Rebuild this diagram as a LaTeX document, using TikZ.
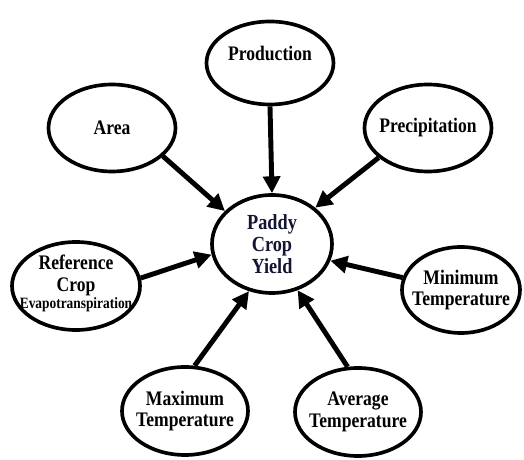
\documentclass[tikz,border=0pt]{standalone}
\usepackage{fontspec}
\setmainfont{Liberation Serif}[FakeStretch=0.85]
\usetikzlibrary{shapes.geometric,arrows.meta}
\colorlet{penColor}{black}
\definecolor{hubText}{rgb}{0.08,0.08,0.2}
\tikzset{
  bubble/.style={ellipse, draw=penColor, line width=2.6pt, fill=white,
    inner sep=-8pt, align=center,
    font=\bfseries\fontsize{14.7}{15.5}\selectfont},
  hub/.style={bubble, minimum width=3.0cm, minimum height=2.45cm,
    text=hubText, font=\bfseries\fontsize{15.3}{15.5}\selectfont},
  feed/.style={draw=penColor, line width=3.5pt,
    -{Triangle[length=0.42cm,width=0.42cm]}}
}
\newcommand{\smallterm}[1]{{\fontsize{11.2}{12}\selectfont #1}}

\begin{document}
\begin{tikzpicture}
    \useasboundingbox (0,0) rectangle (13.1,11.5);
    % the factors round the yield
    \node[hub] (yield) at (6.8,5.4) {Paddy\\Crop\\Yield};
    \node[bubble, minimum width=3.175cm, minimum height=2.075cm] (production) at (6.75,9.925) {\raisebox{0.5cm}{Production}};
    \node[bubble, minimum width=3.175cm, minimum height=2.175cm] (area) at (2.8,8.3) {Area};
    \node[bubble, minimum width=3.175cm, minimum height=2.175cm] (precip) at (10.7,8.3) {Precipitation};
    \node[bubble, minimum width=3.2cm, minimum height=2.2cm] (refcrop) at (1.9,4.35)
      {\raisebox{0.2cm}{Reference}\\\raisebox{0.2cm}{Crop}\\[-3pt]\smallterm{\raisebox{0.2cm}{Evapotranspiration}}};
    \node[bubble, minimum width=2.95cm, minimum height=2.15cm] (mintemp) at (11.525,4.25) {Minimum\\Temperature};
    \node[bubble, minimum width=3.15cm, minimum height=2.2cm] (maxtemp) at (4.625,1.225) {Maximum\\Temperature};
    \node[bubble, minimum width=3.15cm, minimum height=2.2cm] (avgtemp) at (8.95,1.2) {Average\\Temperature};
    % arrows into the yield
    \draw[feed] (area.-29) -- (yield.145);
    \draw[feed] (production.south) -- (yield.north);
    \draw[feed] (precip.211) -- (yield.40);
    \draw[feed] (refcrop.7) -- (yield.190);
    \draw[feed] (mintemp.168) -- (yield.344);
    \draw[feed] (maxtemp.78) -- (yield.244);
    \draw[feed] (avgtemp.103) -- (yield.299);
\end{tikzpicture}
\end{document}
